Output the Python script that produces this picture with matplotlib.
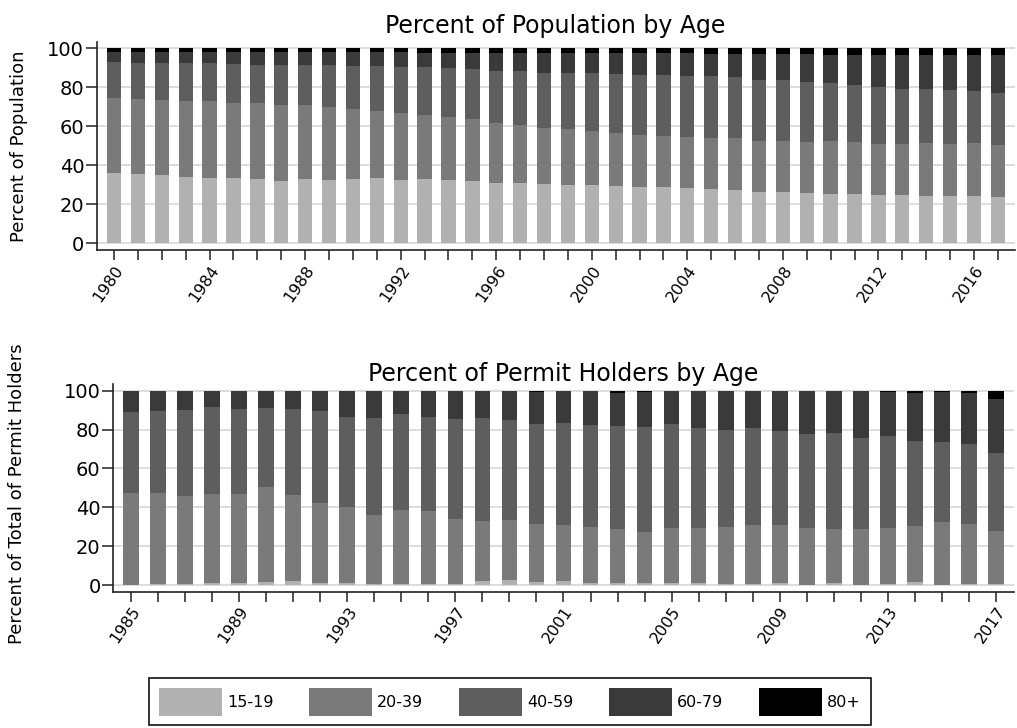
import numpy as np
import matplotlib
matplotlib.use("Agg")
import matplotlib.pyplot as plt
from matplotlib.patches import Patch

# ---- data -----------------------------------------------------------------
age_groups = ["15-19", "20-39", "40-59", "60-79", "80+"]
group_colors = ["#b1b1b1", "#7a7a7a", "#5e5e5e", "#3a3a3a", "#000000"]

pop_years = list(range(1980, 2018))
pop_15_19 = [36.2, 35.6, 34.9, 34.0, 33.7, 33.7, 33.0, 32.1, 33.2, 32.6,
             33.0, 33.3, 32.6, 32.8, 32.6, 32.0, 30.9, 30.8, 30.3, 29.9,
             29.7, 29.4, 29.1, 28.7, 28.2, 27.9, 27.2, 26.5, 26.3, 25.8,
             25.5, 25.1, 24.8, 24.6, 24.4, 24.3, 24.1, 23.9]
pop_20_39 = [38.5, 38.6, 38.6, 39.2, 39.5, 38.4, 38.8, 38.7, 37.6, 37.1,
             36.1, 34.7, 34.1, 33.0, 32.0, 31.6, 30.8, 29.9, 28.8, 28.6,
             27.9, 27.4, 26.6, 26.5, 26.3, 26.3, 26.6, 26.0, 26.2, 26.0,
             26.8, 26.9, 26.3, 26.2, 27.1, 26.8, 27.2, 26.5]
pop_40_59 = [18.3, 18.4, 19.0, 19.1, 19.1, 19.9, 19.5, 20.5, 20.8, 21.8,
             22.0, 22.9, 23.9, 24.5, 25.1, 25.6, 26.8, 27.7, 28.4, 28.9,
             29.6, 30.0, 30.8, 31.1, 31.5, 31.4, 31.5, 31.4, 31.1, 31.1,
             30.1, 29.2, 28.9, 28.5, 27.8, 27.5, 26.6, 26.9]
pop_60_79 = [5.1, 5.5, 5.4, 5.6, 5.6, 5.9, 6.6, 6.6, 6.3, 6.4,
             6.8, 7.0, 7.3, 7.5, 8.1, 8.6, 9.3, 9.4, 10.3, 10.4,
             10.6, 10.8, 11.1, 11.1, 11.4, 11.7, 12.0, 13.2, 13.5, 14.0,
             14.2, 15.4, 16.4, 17.1, 17.1, 17.8, 18.5, 19.1]
pop_80_plus = [1.9, 1.9, 2.1, 2.1, 2.1, 2.1, 2.1, 2.1, 2.1, 2.1,
               2.1, 2.1, 2.1, 2.2, 2.2, 2.2, 2.2, 2.2, 2.2, 2.2,
               2.2, 2.4, 2.4, 2.6, 2.6, 2.7, 2.7, 2.9, 2.9, 3.1,
               3.4, 3.4, 3.6, 3.6, 3.6, 3.6, 3.6, 3.6]

permit_years = list(range(1985, 2018))
permit_15_19 = [0.3, 0.5, 0.5, 0.9, 1.0, 1.5, 2.1, 1.0, 1.0, 0.7,
                0.7, 0.8, 0.8, 2.1, 2.4, 1.7, 2.1, 1.0, 1.2, 1.2,
                1.2, 1.0, 0.7, 0.7, 1.0, 0.3, 0.9, 0.3, 0.5, 1.5,
                0.0, 0.5, 0.7]
permit_20_39 = [46.9, 47.0, 45.5, 46.1, 45.7, 48.8, 44.4, 41.4, 39.1, 35.5,
                38.0, 37.5, 33.3, 30.8, 31.0, 29.5, 28.6, 28.8, 27.7, 26.2,
                28.3, 28.5, 29.3, 30.0, 30.0, 29.2, 27.7, 28.3, 28.8, 29.0,
                32.4, 31.1, 26.9]
permit_40_59 = [42.0, 42.2, 44.1, 44.6, 43.7, 40.8, 44.2, 47.1, 46.5, 49.9,
                49.3, 48.0, 51.1, 52.9, 51.5, 51.8, 52.8, 52.4, 53.1, 53.9,
                53.3, 51.3, 50.0, 49.9, 48.3, 48.4, 49.4, 47.2, 47.2, 43.6,
                41.4, 41.1, 40.5]
permit_60_79 = [10.8, 10.3, 9.9, 8.4, 9.6, 8.9, 9.3, 10.5, 13.4, 13.9,
                12.0, 13.7, 14.8, 14.2, 15.1, 16.5, 16.5, 17.8, 16.8, 18.0,
                17.2, 19.2, 20.0, 19.4, 20.7, 22.1, 22.0, 24.2, 22.7, 24.7,
                25.7, 26.1, 27.8]
permit_80_plus = [0.0, 0.0, 0.0, 0.0, 0.0, 0.0, 0.0, 0.0, 0.0, 0.0,
                  0.0, 0.0, 0.0, 0.0, 0.0, 0.5, 0.0, 0.0, 1.2, 0.7,
                  0.0, 0.0, 0.0, 0.0, 0.0, 0.0, 0.0, 0.0, 0.8, 1.2,
                  0.5, 1.2, 4.1]

pop_ticks = list(range(1980, 2018, 4))
permit_ticks = list(range(1985, 2018, 4))

# ---- figure ---------------------------------------------------------------
W, H = 1017, 728
fig = plt.figure(figsize=(W / 100, H / 100), dpi=100)


def px_axes(left, top, right, bottom):
    return fig.add_axes([left / W, 1 - bottom / H, (right - left) / W, (bottom - top) / H])


def stacked(ax, years, series, width, xlim, label_years):
    x = np.array(years, dtype=float)
    base = np.zeros(len(years))
    for vals, col in zip(series, group_colors):
        v = np.array(vals, dtype=float)
        ax.bar(x, v, width=width, bottom=base, color=col, linewidth=0, zorder=3)
        base += v
    ax.set_xlim(*xlim)
    ax.set_ylim(-3.4, 103.4)
    ax.set_yticks([0, 20, 40, 60, 80, 100])
    ax.grid(axis="y", color="#dadada", linewidth=1.3, zorder=0)
    ax.set_xticks(years)
    ax.set_xticklabels([str(y) if y in label_years else "" for y in years],
                       rotation=55, ha="right", rotation_mode="anchor", fontsize=11.5)
    ax.tick_params(axis="x", length=7, width=1.1, color="#222222", pad=2)
    ax.tick_params(axis="y", length=8, width=1.1, color="#222222", pad=1, labelsize=14)
    for side in ("top", "right"):
        ax.spines[side].set_visible(False)
    for side in ("left", "bottom"):
        ax.spines[side].set_color("#222222")
        ax.spines[side].set_linewidth(1.2)


ax1 = px_axes(96.7, 41.7, 1014.6, 250)
stacked(ax1, pop_years,
        [pop_15_19, pop_20_39, pop_40_59, pop_60_79, pop_80_plus],
        0.6, (1979.275, 2017.70), pop_ticks)

ax2 = px_axes(113, 384, 1014, 591.7)
stacked(ax2, permit_years,
        [permit_15_19, permit_20_39, permit_40_59, permit_60_79, permit_80_plus],
        0.58, (1984.334, 2017.666), permit_ticks)

# titles and axis labels
fig.text(555.6 / W, 1 - 33 / H, "Percent of Population by Age",
         ha="center", va="baseline", fontsize=17)
fig.text(563.5 / W, 1 - 381.5 / H, "Percent of Permit Holders by Age",
         ha="center", va="baseline", fontsize=17)
fig.text(19 / W, 1 - 145.8 / H, "Percent of Population",
         rotation=90, ha="center", va="center", fontsize=13)
fig.text(17.5 / W, 1 - 493.5 / H, "Percent of Total of Permit Holders",
         rotation=90, ha="center", va="center", fontsize=13)

# legend
handles = [Patch(facecolor=c, edgecolor="none", label=g)
           for g, c in zip(age_groups, group_colors)]
leg = fig.legend(handles=handles, loc="upper left",
                 bbox_to_anchor=(149.3 / W, 1 - 678.3 / H),
                 ncol=5, fontsize=11.5, frameon=True, fancybox=False,
                 edgecolor="#111111", framealpha=1,
                 handlelength=3.95, handleheight=2.3, handletextpad=0.3,
                 columnspacing=2.25, borderpad=0.6, borderaxespad=0)
leg.get_frame().set_linewidth(1.2)

fig.savefig("out.png", dpi=100)
